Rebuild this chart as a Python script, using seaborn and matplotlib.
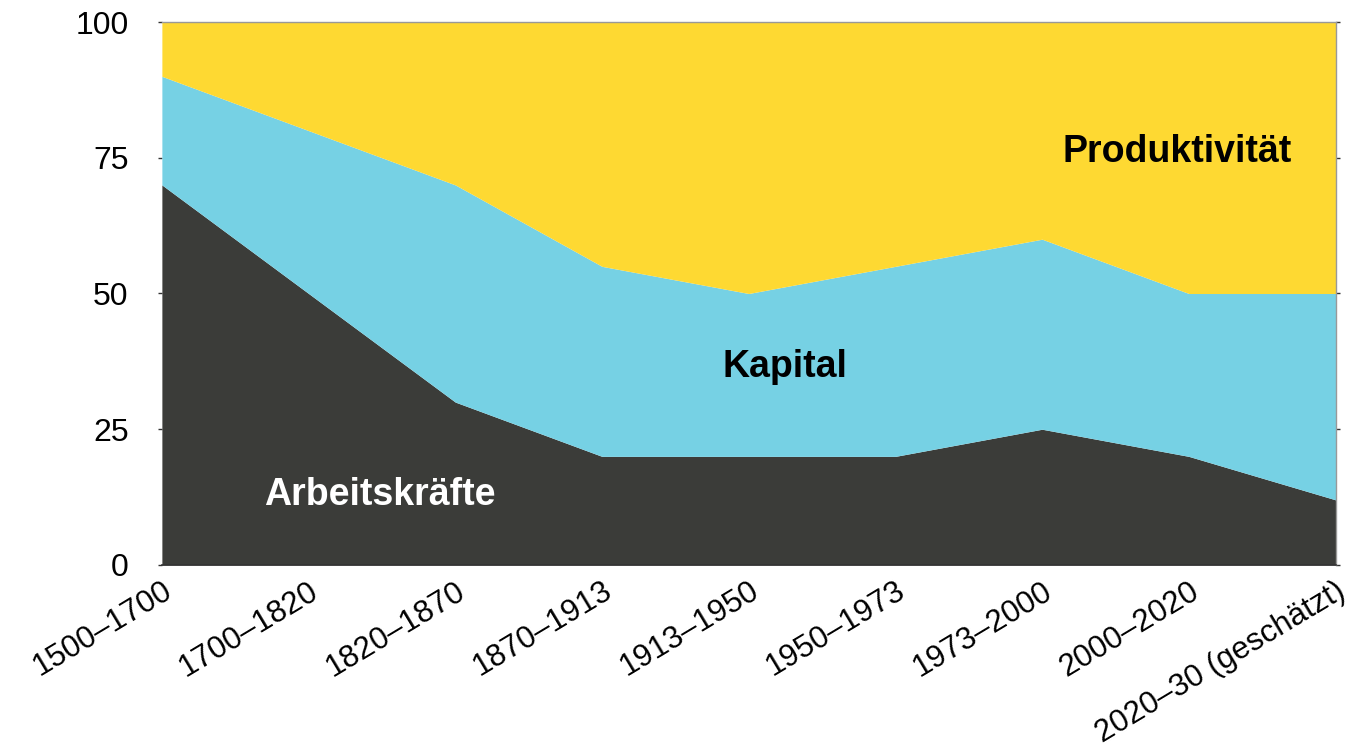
import matplotlib
matplotlib.use("Agg")
import matplotlib.pyplot as plt
import seaborn as sns
import numpy as np
import pandas as pd

periods = ["1500–1700", "1700–1820", "1820–1870", "1870–1913", "1913–1950",
           "1950–1973", "1973–2000", "2000–2020", "2020–30 (geschätzt)"]
arbeit = [70, 50, 30, 20, 20, 20, 25, 20, 12]
kapital = [20, 30, 40, 35, 30, 35, 35, 30, 38]
produkt = [10, 20, 30, 45, 50, 45, 40, 50, 50]
y_ticks = [0, 25, 50, 75, 100]

colors = ["#3B3C39", "#76D1E4", "#FED932"]

sns.set_theme(style="white")
plt.rcParams['font.family'] = ['Liberation Sans', 'DejaVu Sans']

df = pd.DataFrame({"Periode": periods, "Arbeitskräfte": arbeit,
                   "Kapital": kapital, "Produktivität": produkt})

fig = plt.figure(figsize=(13.49, 7.49), dpi=100)
ax = fig.add_axes([0.120, 0.2457, 0.870, 0.7249])
x = np.arange(len(df))
ax.stackplot(x, df["Arbeitskräfte"], df["Kapital"], df["Produktivität"],
             colors=colors, linewidth=0)

ax.set_xlim(0, len(df) - 1)
ax.set_ylim(0, 100)
ax.set_yticks(y_ticks)
ax.set_yticklabels([str(v) for v in y_ticks], fontsize=23, color="black")
ax.set_xticks(x)
ax.set_xticklabels(periods, rotation=31, ha="right", rotation_mode="anchor",
                   fontsize=22.5, color="black")
ax.tick_params(axis="y", which="both", left=True, right=True, length=3, width=1,
               color="#333333", pad=21, direction="out")
ax.tick_params(axis="x", length=0, pad=8)

ax.spines["left"].set_visible(False)
ax.spines["top"].set_color("#999999")
ax.spines["top"].set_linewidth(1)
ax.spines["right"].set_visible(True)
ax.spines["right"].set_color("#999999")
ax.spines["right"].set_linewidth(1)
ax.spines["bottom"].set_color("#333333")
ax.spines["bottom"].set_linewidth(1.2)

ax.text(6.92, 76.1, "Produktivität", fontsize=27, fontweight="bold", color="black",
        ha="center", va="center")
ax.text(4.245, 36.5, "Kapital", fontsize=27, fontweight="bold", color="black",
        ha="center", va="center")
ax.text(1.486, 12.9, "Arbeitskräfte", fontsize=27, fontweight="bold", color="white",
        ha="center", va="center")

fig.savefig("out.png", dpi=100)
